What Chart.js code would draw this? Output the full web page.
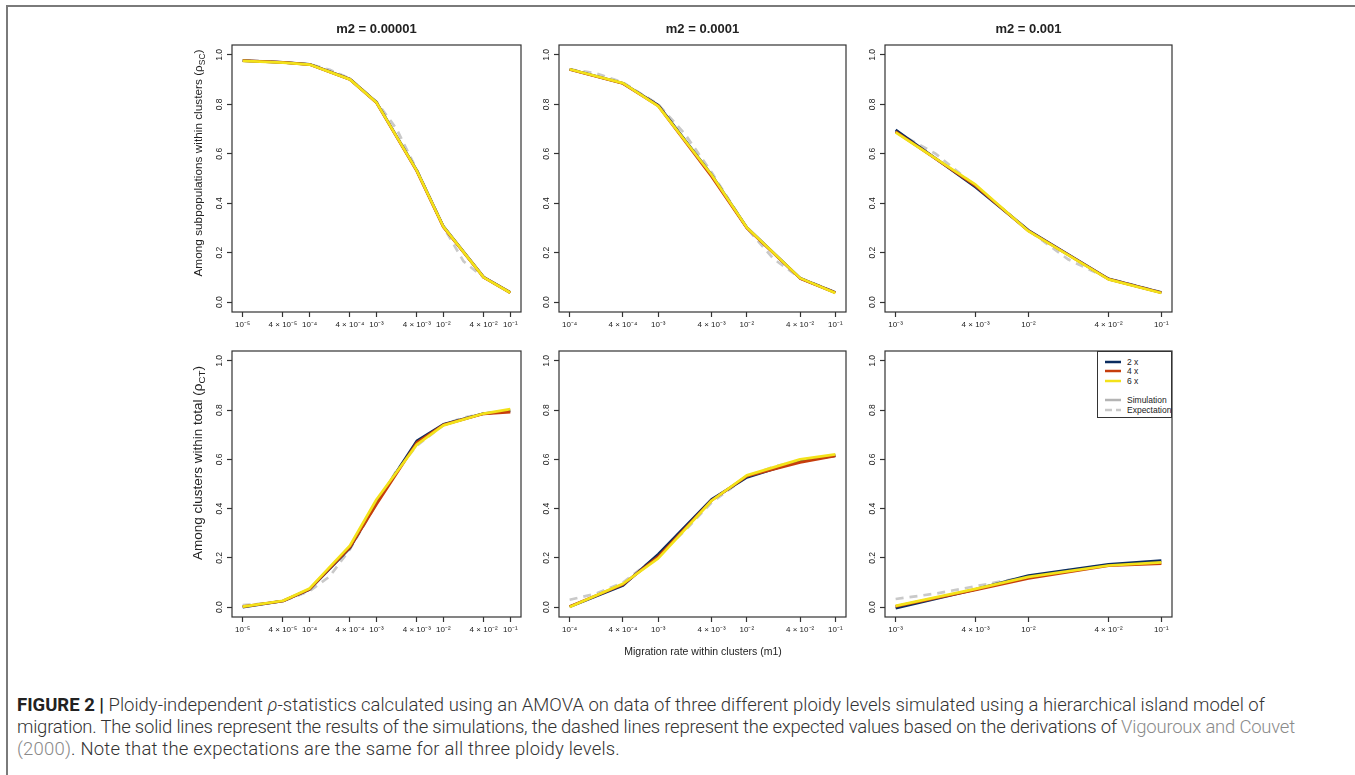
<!DOCTYPE html>
<html><head><meta charset="utf-8">
<script src="https://cdn.jsdelivr.net/npm/chart.js@4.4.1/dist/chart.umd.min.js"></script>
<style>
html,body{margin:0;padding:0;background:#fff;}
body{width:1355px;height:775px;position:relative;overflow:hidden;font-family:"Liberation Sans",Arial,sans-serif;color:#222;}
canvas{position:absolute;}
.t{position:absolute;white-space:nowrap;}
#frame{position:absolute;left:6px;top:5px;width:1360px;height:800px;border-left:2px solid #7a7a7a;border-top:2px solid #7a7a7a;}
.ptitle{font-weight:bold;font-size:13px;text-align:center;line-height:16px;}
.ytitle{text-align:center;line-height:18px;height:18px;width:320px;transform:rotate(-90deg);}
.ytitle sub{font-size:0.72em;vertical-align:-0.3em;line-height:0;}
#legend{position:absolute;border:1.2px solid #333;background:#fff;box-sizing:border-box;}
.lg{position:absolute;font-size:8.5px;line-height:10px;white-space:nowrap;}
#caption{position:absolute;left:17px;top:694px;font-family:Roboto,"Liberation Sans",sans-serif;font-weight:300;font-size:16px;line-height:22px;color:#333;white-space:nowrap;}
#caption b{font-weight:700;color:#222;}
#caption .ref{color:#8a8a8a;}
#caption .ln{display:inline-block;}
</style></head><body>
<div id="frame"></div>
<script>
// ---------- data ----------
const panelTitles = ['m2 = 0.00001', 'm2 = 0.0001', 'm2 = 0.001'];
const rowTitles = ['Among subpopulations within clusters (\u03C1<sub>SC</sub>)', 'Among clusters within total (\u03C1<sub>CT</sub>)'];
const xAxisTitle = 'Migration rate within clusters (m1)';
const ploidyNames = ['2 x', '4 x', '6 x'];
const ploidyColors = ['#0b2c5f', '#c63d0c', '#f3e21a'];
const legendExtra = ['Simulation', 'Expectation'];
const yTickValues = [0, 0.2, 0.4, 0.6, 0.8, 1.0];
const yTickLabels = ['0.0', '0.2', '0.4', '0.6', '0.8', '1.0'];

// m1 values (x) and tick labels for each m2 column
const m1_col1 = [1e-5, 4e-5, 1e-4, 4e-4, 1e-3, 4e-3, 1e-2, 4e-2, 1e-1];
const m1_col2 = [1e-4, 4e-4, 1e-3, 4e-3, 1e-2, 4e-2, 1e-1];
const m1_col3 = [1e-3, 4e-3, 1e-2, 4e-2, 1e-1];
const ticks_col1 = ['10⁻⁵', '4 × 10⁻⁵', '10⁻⁴', '4 × 10⁻⁴', '10⁻³', '4 × 10⁻³', '10⁻²', '4 × 10⁻²', '10⁻¹'];
const ticks_col2 = ['10⁻⁴', '4 × 10⁻⁴', '10⁻³', '4 × 10⁻³', '10⁻²', '4 × 10⁻²', '10⁻¹'];
const ticks_col3 = ['10⁻³', '4 × 10⁻³', '10⁻²', '4 × 10⁻²', '10⁻¹'];
// m1 values at which the expectation curve is drawn
const m1e_col1 = [1e-5, 2e-5, 4e-5, 1e-4, 2e-4, 4e-4, 1e-3, 2e-3, 4e-3, 1e-2, 2e-2, 4e-2, 1e-1];
const m1e_col2 = [1e-4, 2e-4, 4e-4, 1e-3, 2e-3, 4e-3, 1e-2, 2e-2, 4e-2, 1e-1];
const m1e_col3 = [1e-3, 2e-3, 4e-3, 1e-2, 2e-2, 4e-2, 1e-1];

// rho_SC (top row)
const sc2x_m2a = [0.977, 0.970, 0.962, 0.902, 0.808, 0.533, 0.306, 0.101, 0.039];
const sc4x_m2a = [0.977, 0.970, 0.961, 0.901, 0.806, 0.530, 0.303, 0.100, 0.038];
const sc6x_m2a = [0.976, 0.969, 0.961, 0.901, 0.807, 0.532, 0.305, 0.100, 0.038];
const scExp_m2a = [0.977, 0.974, 0.970, 0.962, 0.940, 0.904, 0.810, 0.700, 0.535, 0.305, 0.165, 0.100, 0.039];

const sc2x_m2b = [0.942, 0.885, 0.797, 0.515, 0.302, 0.097, 0.039];
const sc4x_m2b = [0.941, 0.884, 0.794, 0.508, 0.300, 0.096, 0.038];
const sc6x_m2b = [0.942, 0.886, 0.793, 0.515, 0.302, 0.097, 0.037];
const scExp_m2b = [0.942, 0.925, 0.888, 0.800, 0.680, 0.525, 0.300, 0.175, 0.098, 0.040];

const sc2x_m2c = [0.697, 0.465, 0.290, 0.094, 0.039];
const sc4x_m2c = [0.690, 0.470, 0.288, 0.093, 0.038];
const sc6x_m2c = [0.687, 0.475, 0.287, 0.092, 0.037];
const scExp_m2c = [0.690, 0.600, 0.470, 0.290, 0.172, 0.095, 0.040];

// rho_CT (bottom row)
const ct2x_m2a = [0.000, 0.025, 0.072, 0.240, 0.425, 0.675, 0.742, 0.786, 0.797];
const ct4x_m2a = [0.002, 0.025, 0.073, 0.243, 0.418, 0.668, 0.740, 0.785, 0.792];
const ct6x_m2a = [0.002, 0.026, 0.076, 0.250, 0.437, 0.660, 0.738, 0.786, 0.804];
const ctExp_m2a = [0.008, 0.015, 0.025, 0.065, 0.125, 0.235, 0.420, 0.555, 0.655, 0.740, 0.770, 0.785, 0.800];

const ct2x_m2b = [0.002, 0.088, 0.215, 0.437, 0.527, 0.595, 0.615];
const ct4x_m2b = [0.003, 0.092, 0.205, 0.433, 0.532, 0.588, 0.614];
const ct6x_m2b = [0.001, 0.095, 0.198, 0.432, 0.535, 0.600, 0.620];
const ctExp_m2b = [0.030, 0.055, 0.100, 0.210, 0.310, 0.425, 0.530, 0.570, 0.595, 0.615];

const ct2x_m2c = [-0.004, 0.072, 0.128, 0.174, 0.189];
const ct4x_m2c = [0.003, 0.070, 0.117, 0.168, 0.177];
const ct6x_m2c = [0.005, 0.074, 0.123, 0.169, 0.182];
const ctExp_m2c = [0.033, 0.055, 0.085, 0.125, 0.150, 0.170, 0.180];

// ---------- layout (plot boxes in page pixels) ----------
const colLeft = [232, 559, 885], colRight = [521, 846, 1172];
const rowTop = [45, 351], rowBottom = [312, 617];
const FONT = '"Liberation Sans", Arial, sans-serif';

const panels = [
  {col:0,row:0,x:m1_col1,s:[sc2x_m2a,sc4x_m2a,sc6x_m2a],xe:m1e_col1,e:scExp_m2a,tl:ticks_col1},
  {col:1,row:0,x:m1_col2,s:[sc2x_m2b,sc4x_m2b,sc6x_m2b],xe:m1e_col2,e:scExp_m2b,tl:ticks_col2},
  {col:2,row:0,x:m1_col3,s:[sc2x_m2c,sc4x_m2c,sc6x_m2c],xe:m1e_col3,e:scExp_m2c,tl:ticks_col3},
  {col:0,row:1,x:m1_col1,s:[ct2x_m2a,ct4x_m2a,ct6x_m2a],xe:m1e_col1,e:ctExp_m2a,tl:ticks_col1},
  {col:1,row:1,x:m1_col2,s:[ct2x_m2b,ct4x_m2b,ct6x_m2b],xe:m1e_col2,e:ctExp_m2b,tl:ticks_col2},
  {col:2,row:1,x:m1_col3,s:[ct2x_m2c,ct4x_m2c,ct6x_m2c],xe:m1e_col3,e:ctExp_m2c,tl:ticks_col3}
];

// plot frame (R-style box) and rotated y tick labels placed through the y scale
const boxPlugin = {
  id: 'box',
  afterDraw(chart) {
    const {ctx, chartArea: a} = chart;
    const ys = chart.scales.y;
    ctx.save();
    ctx.strokeStyle = '#333';
    ctx.lineWidth = 1.2;
    ctx.strokeRect(a.left, a.top, a.right - a.left, a.bottom - a.top);
    ctx.fillStyle = '#1a1a1a';
    ctx.font = '8.5px ' + FONT;
    ctx.textAlign = 'center';
    ctx.textBaseline = 'middle';
    ys.ticks.forEach((t, i) => {
      const py = ys.getPixelForValue(t.value);
      ctx.save();
      ctx.translate(a.left - 12, py);
      ctx.rotate(-Math.PI / 2);
      ctx.fillText(yTickLabels[i], 0, 0);
      ctx.restore();
    });
    ctx.restore();
  }
};

const pts = (xs, ys) => xs.map((x, i) => ({x: x, y: ys[i]}));

function makePanel(p) {
  const BL = colLeft[p.col], BR = colRight[p.col], BT = rowTop[p.row], BB = rowBottom[p.row];
  const padL = 44, padT = 12, padR = 12, padB = 32;
  const W = BR - BL + padL + padR, H = BB - BT + padT + padB;
  const cv = document.createElement('canvas');
  cv.width = W; cv.height = H;
  cv.style.left = (BL - padL) + 'px'; cv.style.top = (BT - padT) + 'px';
  cv.style.width = W + 'px'; cv.style.height = H + 'px';
  document.body.appendChild(cv);
  const lo = Math.log10(p.x[0]), hi = Math.log10(p.x[p.x.length - 1]);
  const ext = 0.04 * (hi - lo);
  const gridOpts = {display: true, drawOnChartArea: false, drawTicks: true, tickLength: 5, tickWidth: 1.2, tickColor: '#333', color: '#333'};
  const ds = p.s.map((arr, k) => ({
    label: ploidyNames[k], data: pts(p.x, arr), borderColor: ploidyColors[k], order: 3 - k
  }));
  ds.push({label: legendExtra[1], data: pts(p.xe, p.e), borderColor: '#c9c9c9', borderDash: [8, 6], order: 4});
  new Chart(cv, {
    type: 'line',
    data: {datasets: ds},
    options: {
      responsive: false, animation: false, events: [],
      layout: {padding: {left: 0, top: padT, right: padR, bottom: 0}},
      elements: {
        line: {borderWidth: 2.7, tension: 0, fill: false, borderCapStyle: 'butt', borderJoinStyle: 'round'},
        point: {radius: 0, hoverRadius: 0}
      },
      plugins: {legend: {display: false}, tooltip: {enabled: false}, title: {display: false}},
      scales: {
        x: {
          type: 'logarithmic', bounds: 'data',
          min: Math.pow(10, lo - ext), max: Math.pow(10, hi + ext),
          afterBuildTicks(s) { s.ticks = p.x.map(v => ({value: v})); },
          afterFit(s) { s.height = padB; s.paddingLeft = 0; s.paddingRight = 0; },
          ticks: {autoSkip: false, maxRotation: 0, minRotation: 0, padding: 3, color: '#1a1a1a',
                  font: {size: 8, family: FONT}, callback: (v, i) => p.tl[i]},
          grid: gridOpts, border: {display: false}
        },
        y: {
          type: 'linear', min: -0.04, max: 1.04,
          afterBuildTicks(s) { s.ticks = yTickValues.map(v => ({value: v})); },
          afterFit(s) { s.width = padL; s.paddingTop = 0; s.paddingBottom = 0; },
          ticks: {display: false},
          grid: gridOpts, border: {display: false}
        }
      }
    },
    plugins: [boxPlugin]
  });
}
panels.forEach(makePanel);

function addText(cls, html, css) {
  const d = document.createElement('div');
  d.className = 't ' + cls;
  d.innerHTML = html;
  Object.assign(d.style, css);
  document.body.appendChild(d);
  return d;
}
// panel titles
panelTitles.forEach((t, c) => addText('ptitle', t, {left: colLeft[c] + 'px', width: (colRight[c] - colLeft[c]) + 'px', top: '21px'}));
// y-axis titles
addText('ytitle', rowTitles[0], {left: (198 - 160) + 'px', top: (163 - 9) + 'px', fontSize: '11.8px'});
addText('ytitle', rowTitles[1], {left: (198 - 160) + 'px', top: (463 - 9) + 'px', fontSize: '13.5px'});
// x-axis title
addText('', xAxisTitle, {left: '553px', width: '300px', textAlign: 'center', top: '644px', fontSize: '10.5px', lineHeight: '14px'});

// legend inside bottom-right panel
const lg = document.createElement('div');
lg.id = 'legend';
Object.assign(lg.style, {left: '1097px', top: '351px', width: (colRight[2] - 1097) + 'px', height: '67px'});
document.body.appendChild(lg);
const legendRows = [
  {label: ploidyNames[0], color: ploidyColors[0], dash: '', y: 9.7},
  {label: ploidyNames[1], color: ploidyColors[1], dash: '', y: 19.3},
  {label: ploidyNames[2], color: ploidyColors[2], dash: '', y: 29},
  {label: legendExtra[0], color: '#b4b4b4', dash: '', y: 48.3},
  {label: legendExtra[1], color: '#c9c9c9', dash: '7,4', y: 58.3}
];
legendRows.forEach(r => {
  const svg = `<svg width="16" height="4" style="position:absolute;left:7px;top:${r.y - 2}px"><line x1="0" y1="2" x2="16" y2="2" stroke="${r.color}" stroke-width="2.5" ${r.dash ? 'stroke-dasharray="' + r.dash + '"' : ''}/></svg>`;
  lg.insertAdjacentHTML('beforeend', svg + `<div class="lg" style="left:29px;top:${r.y - 5}px">${r.label}</div>`);
});

// caption (three lines, each fitted to the width it has in the figure)
const cap = document.createElement('div');
cap.id = 'caption';
cap.innerHTML = '<span class="ln" id="l1"><b>FIGURE 2 |</b> Ploidy-independent <i>\u03C1</i>-statistics calculated using an AMOVA on data of three different ploidy levels simulated using a hierarchical island model of</span><br>' +
  '<span class="ln" id="l2">migration. The solid lines represent the results of the simulations, the dashed lines represent the expected values based on the derivations of <span class="ref">Vigouroux and Couvet</span></span><br>' +
  '<span class="ln" id="l3"><span class="ref">(2000)</span>. Note that the expectations are the same for all three ploidy levels.</span>';
document.body.appendChild(cap);
const w1 = document.getElementById('l1').getBoundingClientRect().width;
if (w1 > 0) cap.style.fontSize = (16 * 1248 / w1).toFixed(2) + 'px';
[['l2', 1278], ['l3', 603]].forEach(([id, target]) => {
  const el = document.getElementById(id);
  const w = el.getBoundingClientRect().width;
  const n = el.textContent.length;
  if (w > 0 && n > 1) el.style.letterSpacing = ((target - w) / n).toFixed(3) + 'px';
});
</script>
</body></html>
